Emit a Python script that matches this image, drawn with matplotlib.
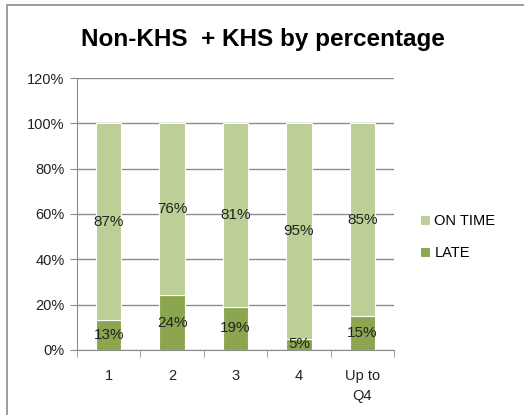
import numpy as np
import matplotlib
matplotlib.use('Agg')
import matplotlib.pyplot as plt
from matplotlib.patches import Rectangle

# ── DATA ──────────────────────────────────────────────────────────────────────
categories = ['1', '2', '3', '4', 'Up to\nQ4']
late = [13, 24, 19, 5, 15]
on_time = [87, 76, 81, 95, 85]
y_ticks = [0, 20, 40, 60, 80, 100, 120]

col_on_time = '#BBCF97'
col_late = '#8BA64F'

plt.rcParams['font.family'] = ['Liberation Sans', 'DejaVu Sans']

fig = plt.figure(figsize=(5.24, 4.15), dpi=100)
ax = fig.add_axes([0.147, 0.157, 0.605, 0.655])

# frame round the chart (partly cut off, as in the screenshot)
fig.patches.append(Rectangle((7 / 524, -0.1), 1.2, 1 - 5 / 415 + 0.1,
                             transform=fig.transFigure, fill=False,
                             edgecolor='#8c8c8c', linewidth=1.2))

x = np.arange(len(categories))
b_late = ax.bar(x, late, width=0.4, color=col_late, edgecolor='white',
                linewidth=0.8, label='LATE', zorder=3)
b_on = ax.bar(x, on_time, width=0.4, bottom=late, color=col_on_time,
              edgecolor='white', linewidth=0.8, label='ON TIME', zorder=3)

for i in range(len(categories)):
    ax.text(x[i], late[i] / 2, f'{late[i]}%', ha='center', va='center',
            fontsize=11, color='#222222', zorder=4)
    ax.text(x[i], late[i] + on_time[i] / 2, f'{on_time[i]}%', ha='center',
            va='center', fontsize=11, color='#222222', zorder=4)

ax.set_xlim(-0.5, len(categories) - 0.5)
ax.set_ylim(0, 120)
ax.set_yticks(y_ticks)
ax.set_yticklabels([f'{v}%' for v in y_ticks], fontsize=10.5, color='#222222')
ax.set_xticks(x)
ax.set_xticklabels(categories, fontsize=10.5, color='#222222', linespacing=1.55)
ax.tick_params(axis='x', length=0, pad=14)
ax.set_xticks(np.arange(-0.5, len(categories)), minor=True)
ax.tick_params(axis='x', which='minor', length=5, color='#8c8c8c')
ax.tick_params(axis='y', length=5, color='#8c8c8c', pad=4)

ax.grid(axis='y', color='#8c8c8c', linewidth=1, zorder=0)
for s in ['top', 'right']:
    ax.spines[s].set_visible(False)
for s in ['left', 'bottom']:
    ax.spines[s].set_color('#8c8c8c')

fig.text(0.502, 0.905, 'Non-KHS  + KHS by percentage', ha='center',
         va='center', fontsize=17.5, fontweight='bold', color='black')

ax.legend(handles=[b_on, b_late], loc='center left',
          bbox_to_anchor=(1.04, 0.415), frameon=False, fontsize=10.5,
          handlelength=0.7, handleheight=0.7, handletextpad=0.3,
          labelspacing=1.2)

plt.savefig('out.png', dpi=100)
